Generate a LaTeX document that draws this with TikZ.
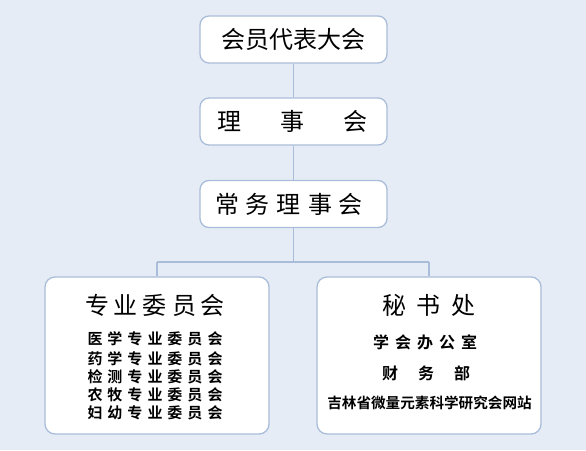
\documentclass[tikz,border=0pt]{standalone}
\usepackage{fontspec}
\newfontfamily\cjk[BoldFont={Noto Sans CJK SC Bold}]{Noto Sans CJK SC}
\definecolor{bg}{HTML}{E6ECF5}
\definecolor{edge}{HTML}{A9BDDA}
\newcommand{\gapp}[1]{\hspace{#1pt}}
\begin{document}
\begin{tikzpicture}[x=1pt,y=-1pt,
  box/.style={draw=edge, line width=1.3pt, fill=white, rounded corners=9pt, inner sep=0pt, minimum width=187pt, minimum height=47pt},
  bigbox/.style={draw=edge, line width=1.3pt, fill=white, rounded corners=10pt, inner sep=0pt, minimum width=224pt, minimum height=157pt},
  link/.style={draw=edge, line width=1.3pt},
  big/.style={font=\cjk\fontsize{24}{28}\selectfont, inner sep=0pt},
  mid/.style={font=\cjk\bfseries\fontsize{16}{19}\selectfont, inner sep=0pt},
  small/.style={font=\cjk\bfseries\fontsize{15}{18}\selectfont, inner sep=0pt}]
\fill[bg] (0,0) rectangle (586,450);
\useasboundingbox (0,0) rectangle (586,450);
% boxes
\node[box] (b1) at (293.5,39.5) {};
\node[box] (b2) at (293.5,121.5) {};
\node[box] (b3) at (293.5,204) {};
\node[bigbox] (bl) at (157,355.5) {};
\node[bigbox] (br) at (429,355.5) {};
% connectors
\coordinate (j) at (293.5,262);
\coordinate (jl) at (157,262);
\coordinate (jr) at (429,262);
\draw[link] (b1.south) -- (b2.north);
\draw[link] (b2.south) -- (b3.north);
\draw[link] (b3.south) -- (j);
\draw[link] (jl) -- (jr);
\draw[link] (jl) -- (bl.north);
\draw[link] (jr) -- (br.north);
% texts
\node[big] (t1) at (293,39.5) {会员代表大会};
\node[big] (t2) at (292,121.5) {理\gapp{39}事\gapp{39}会};
\node[big] (t3) at (289,204) {常\gapp{7}务\gapp{7}理\gapp{7}事\gapp{7}会};
\node[big] (tl) at (155,305) {专\gapp{5}业\gapp{5}委\gapp{5}员\gapp{5}会};
\node[small] (l1) at (155,339) {医\gapp{5}学\gapp{5}专\gapp{5}业\gapp{5}委\gapp{5}员\gapp{5}会};
\node[small] (l2) at (155,358.5) {药\gapp{5}学\gapp{5}专\gapp{5}业\gapp{5}委\gapp{5}员\gapp{5}会};
\node[small] (l3) at (155,377) {检\gapp{5}测\gapp{5}专\gapp{5}业\gapp{5}委\gapp{5}员\gapp{5}会};
\node[small] (l4) at (155,395) {农\gapp{5}牧\gapp{5}专\gapp{5}业\gapp{5}委\gapp{5}员\gapp{5}会};
\node[small] (l5) at (155,413) {妇\gapp{5}幼\gapp{5}专\gapp{5}业\gapp{5}委\gapp{5}员\gapp{5}会};
\node[big] (tr) at (429,305) {秘\gapp{11}书\gapp{11}处};
\node[mid] (r1) at (425,342) {学\gapp{6}会\gapp{6}办\gapp{6}公\gapp{6}室};
\node[mid] (r2) at (426,373) {财\gapp{20}务\gapp{20}部};
\node[small,font=\cjk\bfseries\fontsize{14.6}{17}\selectfont] (r3) at (429.5,403) {吉林省微量元素科学研究会网站};
\end{tikzpicture}
\end{document}
